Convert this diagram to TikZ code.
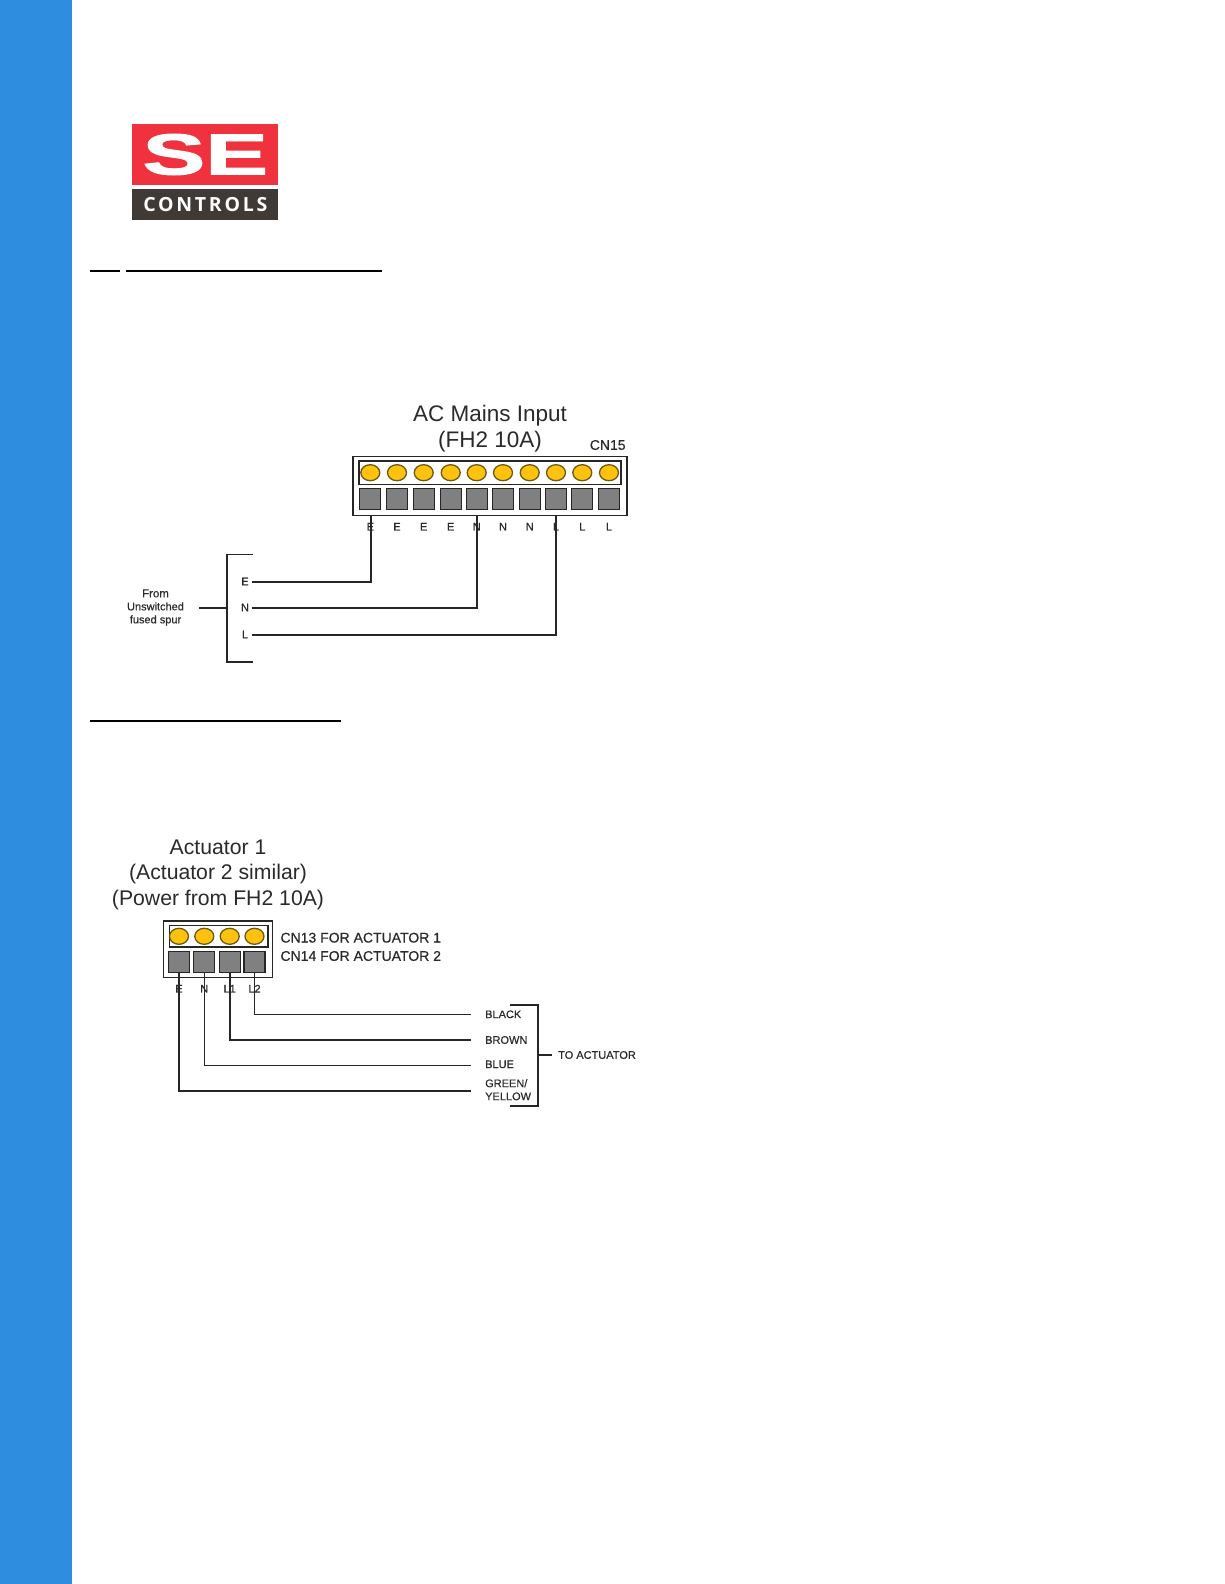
\documentclass[tikz,border=0pt]{standalone}
\usepackage{fontspec}
\setmainfont{Liberation Sans}
\newfontfamily\logofont[LetterSpace=14]{Open Sans}
\newfontfamily\logoheavy[FakeBold=1.6]{Liberation Sans Bold}
\newfontfamily\pinfont[FakeBold=0.5]{Liberation Sans}
\usetikzlibrary{shapes.geometric}
\definecolor{barblue}{HTML}{2F8DDF}
\definecolor{logored}{HTML}{F0323F}
\definecolor{logodark}{HTML}{3F3A36}
\definecolor{lampyellow}{HTML}{FFC20E}
\definecolor{lampedge}{HTML}{6B5A10}
\definecolor{termgray}{HTML}{808080}
\definecolor{inkgray}{HTML}{2A2A2A}
\tikzset{
    wire/.style={line width=1.6pt,black!85},
    housing/.style={line width=1.6pt,black!85},
    lamp/.style={ellipse,draw=lampedge,line width=1.3pt,fill=lampyellow,minimum width=19pt,minimum height=16pt,inner sep=0pt},
    term/.style={rectangle,draw=black!85,line width=1.3pt,fill=termgray,minimum width=21pt,minimum height=21pt,inner sep=0pt},
    headtext/.style={text=inkgray,font=\fontsize{22.5}{24}\selectfont,inner sep=0pt},
    subhead/.style={text=inkgray,font=\fontsize{21.2}{24}\selectfont,inner sep=0pt},
    midtext/.style={text=inkgray,font=\fontsize{14}{16}\pinfont,inner sep=0pt},
    pintext/.style={text=inkgray,font=\fontsize{11}{13}\pinfont,inner sep=0pt},
}
\begin{document}
\begin{tikzpicture}[x=1pt,y=-1pt]
    \useasboundingbox (0,0) rectangle (1224,1584);
    \fill[barblue] (0,0) rectangle (72,1584);
    \fill[logored] (132,124) rectangle (278,184.7);
    \fill[logodark] (132,189) rectangle (278,220.3);
    \node[text=white,inner sep=0pt,xscale=1.62] (logoSE) at (205.3,154.5)
        {\fontsize{58}{58}\logoheavy SE};
    \node[text=white,inner sep=0pt] (logoCN) at (205.3,204.7)
        {\fontsize{19.5}{20}\logofont\bfseries CONTROLS};
    \draw[line width=1.2pt] (90,271) -- (119.7,271);
    \draw[line width=1.2pt] (126,271) -- (382,271);
    \draw[line width=1.2pt] (90,721) -- (341,721);

    \node[headtext] (acTitleA) at (490,415.5) {AC Mains Input};
    \node[headtext] (acTitleB) at (490,441.5) {(FH2 10A)};
    \node[midtext] (cnFifteen) at (607.7,445) {CN15};
    \draw[housing] (353,456.5) rectangle (627,515.5);
    \draw[housing] (359,460.7) rectangle (621,484.3);
    \foreach \i/\x/\t in {1/370.3/E,2/397/E,3/423.7/E,4/450.7/E,5/476.7/N,
            6/503/N,7/529.7/N,8/556/L,9/582.3/L,10/609/L} {
        \node[lamp] (acLamp\i) at (\x,472.7) {};
        \node[term] (acTerm\i) at (\x,499) {};
        \node[pintext] (acPin\i) at (\x,526.7) {\t};
    }
    \coordinate (acTapE) at (371,516);
    \coordinate (acTapN) at (477,516);
    \coordinate (acTapL) at (556,516);
    \node[pintext] (spurE) at (245,581.5) {E};
    \node[pintext] (spurN) at (245,607.5) {N};
    \node[pintext] (spurL) at (245,634.5) {L};
    \coordinate (spurEndE) at (252,582);
    \coordinate (spurEndN) at (252,607.7);
    \coordinate (spurEndL) at (252,634.8);
    \draw[wire] (acTapE) |- (spurEndE);
    \draw[wire] (acTapN) |- (spurEndN);
    \draw[wire] (acTapL) |- (spurEndL);
    \draw[wire] (253,554.3) -- (227,554.3) -- (227,661.7) -- (253,661.7);
    \node[pintext,align=center] (spurFrom) at (155.5,607.5)
        {\fontsize{11.5}{13.7}\pinfont From\\Unswitched\\fused spur};
    \coordinate (spurStubA) at (199,607.7);
    \coordinate (spurStubB) at (227,607.7);
    \draw[wire] (spurStubA) -- (spurStubB);

    \node[subhead] (actTitleA) at (218,847.5) {Actuator 1};
    \node[subhead] (actTitleB) at (218,874) {(Actuator 2 similar)};
    \node[subhead] (actTitleC) at (218,900) {(Power from FH2 10A)};
    \draw[housing] (163.3,920.7) rectangle (272.3,977.3);
    \draw[housing] (169.3,925.3) rectangle (267.7,946.7);
    \foreach \i/\x/\t in {1/179/E,2/204.3/N,3/229.7/L1,4/254.5/L2} {
        \node[lamp] (actLamp\i) at (\x,936.3) {};
        \node[term] (actTerm\i) at (\x,962) {};
        \node[pintext] (actPin\i) at (\x,988.7) {\t};
    }
    \node[midtext,anchor=west] (cnThirteen) at (280.3,937.7) {CN13 FOR ACTUATOR 1};
    \node[midtext,anchor=west] (cnFourteen) at (280.3,956) {CN14 FOR ACTUATOR 2};
    \node[pintext,anchor=west] (colBlack) at (485,1014.3) {BLACK};
    \node[pintext,anchor=west] (colBrown) at (485,1040) {BROWN};
    \node[pintext,anchor=west] (colBlue) at (485,1064.3) {BLUE};
    \node[pintext,anchor=west,align=left] (colGreen) at (485,1089.7) {GREEN/\\YELLOW};
    \coordinate (endBlack) at (471,1014.3);
    \coordinate (endBrown) at (471,1040);
    \coordinate (endBlue) at (471,1065.3);
    \coordinate (endGreen) at (471,1091);
    \draw[wire] (actTerm4.south) |- (endBlack);
    \draw[wire] (actTerm3.south) |- (endBrown);
    \draw[wire] (actTerm2.south) |- (endBlue);
    \draw[wire] (actTerm1.south) |- (endGreen);
    \draw[wire] (510,1005) -- (538,1005) -- (538,1106) -- (510,1106);
    \node[pintext,anchor=west] (toAct) at (558,1055) {TO ACTUATOR};
    \coordinate (toActA) at (538,1055);
    \coordinate (toActB) at (551.7,1055);
    \draw[wire] (toActA) -- (toActB);
\end{tikzpicture}
\end{document}
